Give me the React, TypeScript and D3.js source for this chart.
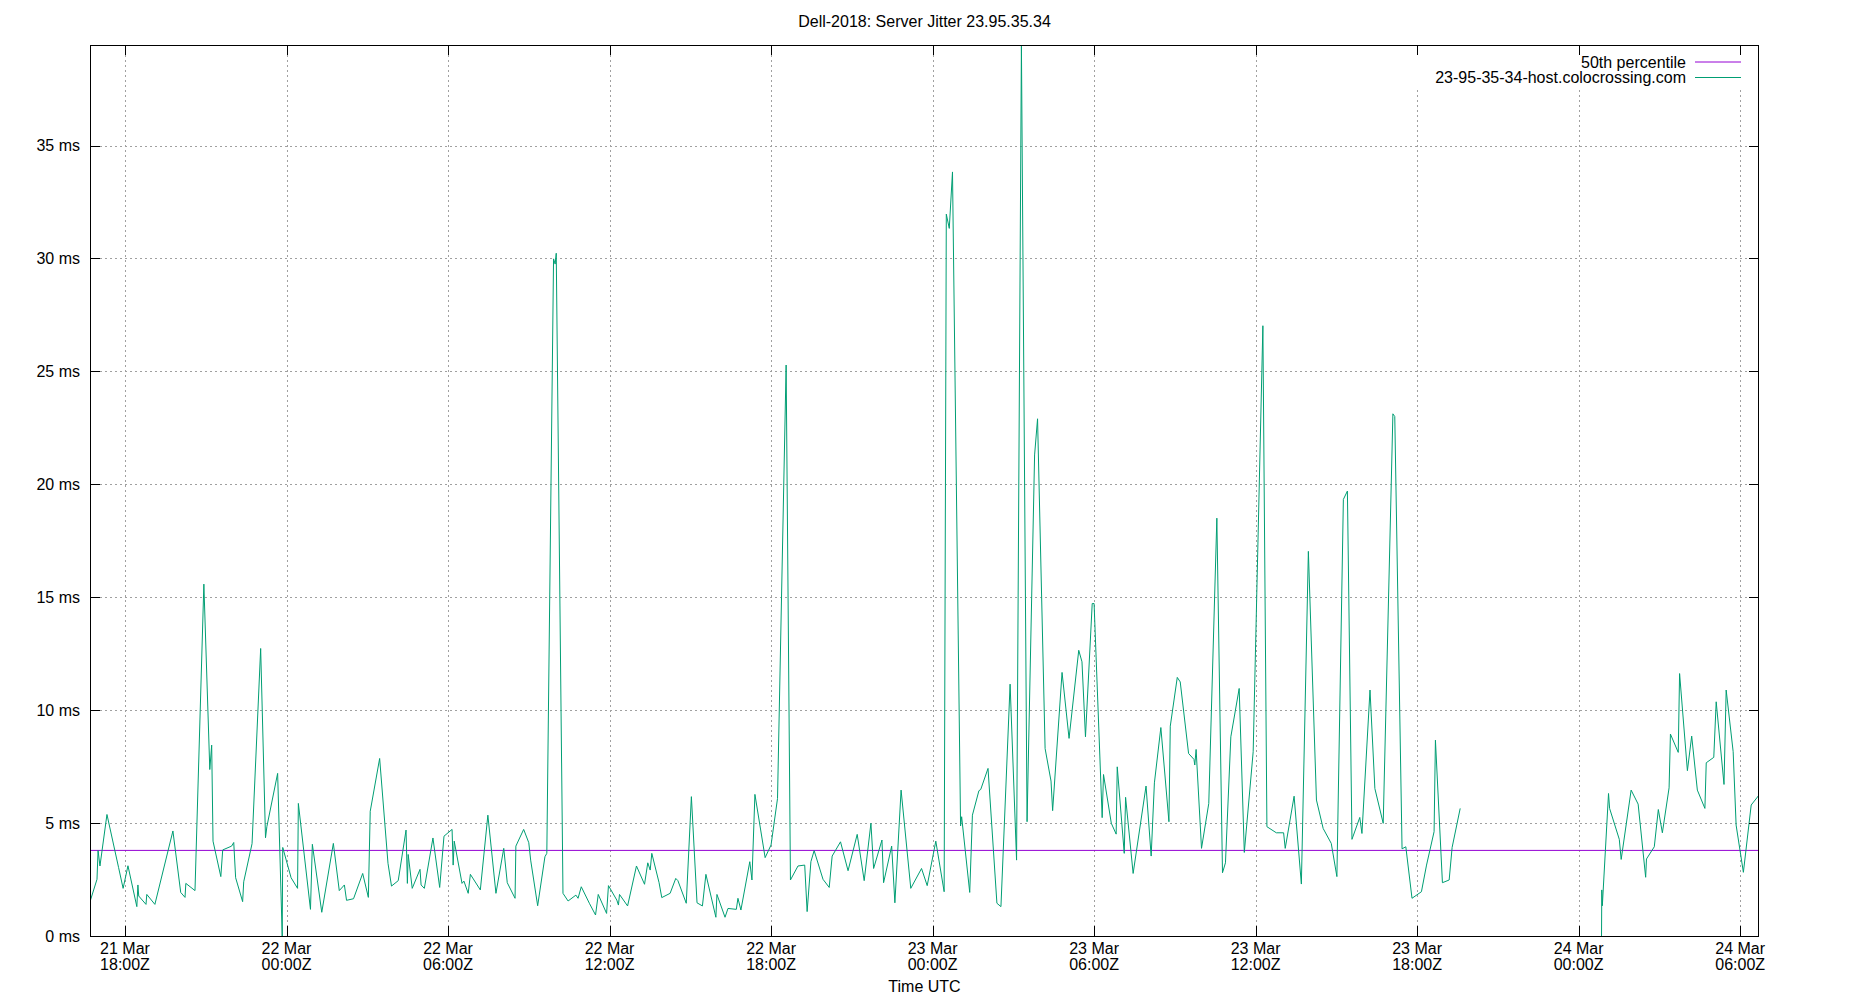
import * as d3 from "d3";
import { FC } from "react";

// hours after 22 Mar 00:00Z; null marks the gap in the samples
const HOURS: number[] = [
  -7.3, -7.04, -7.0, -6.93, -6.67, -6.24, -6.07, -5.89, -5.56, -5.52, -5.49,
  -5.22, -5.19, -4.89, -4.22, -3.93, -3.77, -3.74, -3.4, -3.07, -2.85, -2.78,
  -2.73, -2.44, -2.37, -2.04, -1.96, -1.89, -1.63, -1.59, -1.28, -0.96, -0.78,
  -0.73, -0.33, -0.16, -0.14, 0.17, 0.41, 0.44, 0.89, 0.96, 1.31, 1.74, 1.96,
  2.15, 2.23, 2.49, 2.83, 3.04, 3.11, 3.46, 3.77, 3.9, 4.15, 4.44, 4.49, 4.52,
  4.67, 4.96, 5.0, 5.12, 5.44, 5.69, 5.85, 6.15, 6.19, 6.23, 6.52, 6.59, 6.75,
  6.83, 7.2, 7.48, 7.78, 8.07, 8.2, 8.49, 8.52, 8.81, 9.0, 9.07, 9.33, 9.6,
  9.67, 9.92, 9.98, 10.02, 10.27, 10.46, 10.75, 10.83, 10.95, 11.25, 11.48,
  11.58, 11.89, 11.96, 12.27, 12.33, 12.37, 12.67, 13.0, 13.3, 13.42, 13.51,
  13.57, 13.84, 13.94, 14.25, 14.46, 14.54, 14.85, 15.04, 15.25, 15.45, 15.58,
  15.95, 15.99, 16.29, 16.4, 16.71, 16.77, 16.88, 17.21, 17.29, 17.4, 17.78,
  18.0, 18.24, 18.56, 18.72, 19.0, 19.25, 19.34, 19.48, 19.6, 19.93, 20.16,
  20.27, 20.58, 20.86, 21.2, 21.46, 21.71, 21.81, 22.12, 22.18, 22.48, 22.6,
  22.83, 23.19, 23.59, 23.8, 24.12, 24.43, 24.51, 24.62, 24.74, 25.04, 25.08,
  25.38, 25.48, 25.72, 25.79, 26.06, 26.39, 26.54, 26.88, 27.12, 27.3, 27.51,
  27.79, 27.9, 28.18, 28.4, 28.46, 28.81, 29.07, 29.43, 29.55, 29.68, 29.93,
  30.0, 30.3, 30.35, 30.64, 30.82, 30.86, 31.12, 31.17, 31.45, 31.93, 32.12,
  32.24, 32.48, 32.78, 32.83, 33.09, 33.2, 33.51, 33.71, 33.74, 33.79, 33.99,
  34.26, 34.56, 34.77, 34.88, 35.08, 35.39, 35.58, 35.91, 36.27, 36.42, 36.77,
  37.04, 37.1, 37.43, 37.7, 37.96, 38.26, 38.51, 38.81, 39.02, 39.26, 39.41,
  39.58, 39.87, 39.95, 40.25, 40.43, 40.74, 41.1, 41.17, 41.44, 41.58, 41.81,
  42.16, 42.35, 42.63, 42.68, 42.94, 43.19, 43.3, 43.6, 46.0, 48.85, 48.86,
  48.88, 49.11, 49.15, 49.51, 49.58, 49.95, 50.21, 50.49, 50.52, 50.81, 50.96,
  51.11, 51.36, 51.41, 51.7, 51.75, 52.04, 52.2, 52.41, 52.69, 52.74, 53.02,
  53.11, 53.4, 53.48, 53.74, 53.85, 54.12, 54.41, 54.7,
];

// jitter, ms
const JITTER: (number | null)[] = [
  1.52, 2.51, 3.78, 3.1, 5.38, 3.04, 2.11, 3.11, 1.3, 2.26, 1.77, 1.4, 1.84,
  1.4, 4.65, 1.93, 1.71, 2.33, 2.01, 15.58, 7.37, 8.45, 4.2, 2.63, 3.81, 3.98,
  4.14, 2.58, 1.52, 2.4, 4.09, 12.73, 4.35, 4.84, 7.2, 0.0, 3.92, 2.58, 2.11,
  5.87, 1.18, 4.06, 1.05, 4.1, 2.01, 2.26, 1.58, 1.65, 2.77, 1.71, 5.52, 7.86,
  3.22, 2.21, 2.45, 4.69, 2.33, 3.61, 2.11, 2.95, 2.26, 2.11, 4.34, 2.15, 4.42,
  4.72, 3.14, 4.2, 2.33, 2.43, 1.89, 2.73, 2.04, 5.35, 1.89, 3.88, 2.36, 1.67,
  3.98, 4.72, 4.13, 3.36, 1.34, 3.51, 3.66, 29.98, 29.75, 30.23, 1.89, 1.55,
  1.81, 1.67, 2.18, 1.45, 0.93, 1.84, 1.0, 2.23, 1.59, 1.37, 1.84, 1.33, 3.1,
  2.29, 3.24, 2.92, 3.66, 2.36, 1.7, 1.89, 2.55, 2.45, 1.45, 6.17, 1.47, 1.33,
  2.73, 0.83, 1.84, 0.83, 1.22, 1.18, 1.67, 1.15, 3.29, 2.48, 6.27, 3.47, 4.03,
  6.09, 25.28, 2.48, 3.1, 3.14, 1.08, 3.29, 3.78, 2.51, 2.15, 3.54, 4.17, 2.89,
  4.5, 2.45, 4.99, 2.99, 4.25, 2.36, 3.98, 1.47, 6.46, 2.11, 2.99, 2.23, 4.2,
  1.96, 31.96, 31.33, 33.83, 4.87, 5.28, 1.93, 5.35, 6.43, 6.49, 7.42, 1.45,
  1.3, 11.15, 3.36, 39.45, 5.06, 21.3, 22.9, 8.3, 6.86, 5.55, 11.67, 8.75,
  12.65, 12.14, 8.82, 14.72, 14.72, 5.24, 7.15, 4.99, 4.51, 7.49, 3.66, 6.14,
  2.77, 6.64, 3.54, 6.78, 9.23, 5.06, 9.29, 11.45, 11.25, 8.08, 7.82, 7.57,
  8.26, 3.88, 5.87, 18.5, 2.8, 3.24, 8.82, 10.96, 3.7, 8.16, 27.02, 4.84, 4.57,
  4.57, 3.88, 6.19, 2.3, 17.03, 6.02, 4.76, 4.1, 2.63, 19.33, 19.7, 4.28, 5.25,
  4.54, 10.89, 6.53, 4.99, 23.12, 23.0, 3.86, 3.95, 1.67, 1.96, 3.14, 4.62,
  8.67, 2.36, 2.48, 3.92, 5.65, null, 0.0, 2.04, 1.34, 6.31, 5.65, 4.28, 3.39,
  6.46, 5.84, 2.6, 3.41, 3.95, 5.6, 4.57, 6.56, 8.94, 8.13, 11.62, 7.32, 8.85,
  6.46, 5.65, 7.67, 7.91, 10.37, 6.71, 10.89, 8.16, 4.91, 2.82, 5.8, 6.24,
];

const MEDIAN = 3.79;
const TITLE = "Dell-2018: Server Jitter 23.95.35.34";
const SERIES = ["50th percentile", "23-95-35-34-host.colocrossing.com"];
const COLORS = ["#9400d3", "#009e73"];

const BASE = Date.UTC(2019, 2, 22, 0, 0);
const FONT = "'Liberation Sans', Arial, sans-serif";

const W = 1850;
const H = 1000;
const M = { top: 45, right: 91, bottom: 64, left: 90 };

const App: FC = () => {
  const pts = HOURS.map((h, i) => ({
    t: new Date(BASE + h * 3600e3),
    v: JITTER[i],
  }));

  const x = d3
    .scaleUtc()
    .domain(d3.extent(pts, (d) => d.t) as [Date, Date])
    .range([M.left, W - M.right]);
  const y = d3
    .scaleLinear()
    .domain([0, d3.max(JITTER, (d) => d ?? 0) as number])
    .range([H - M.bottom, M.top]);

  const xTicks = x.ticks(d3.utcHour.every(6)!);
  const yTicks = y.ticks(8);
  const fmtDay = d3.utcFormat("%d %b");
  const fmtHour = d3.utcFormat("%H:%MZ");

  const line = d3
    .line<{ t: Date; v: number | null }>()
    .defined((d) => d.v !== null)
    .x((d) => x(d.t))
    .y((d) => y(d.v as number));

  const x0 = M.left;
  const x1 = W - M.right;
  const y0 = H - M.bottom;
  const y1 = M.top;

  return (
    <svg
      width={W}
      height={H}
      style={{ position: "absolute", left: 0, top: 0, background: "#fff" }}
      fontFamily={FONT}
    >
      <text x={(x0 + x1) / 2} y={27} textAnchor="middle" fontSize={16}>
        {TITLE}
      </text>

      {/* grid */}
      <g stroke="#a0a0a0" strokeWidth={1} strokeDasharray="2,3">
        {xTicks.map((t, i) => (
          <line
            key={"gx" + i}
            x1={Math.round(x(t)) + 0.5}
            x2={Math.round(x(t)) + 0.5}
            y1={y1}
            y2={y0}
          />
        ))}
        {yTicks
          .filter((v) => v > 0)
          .map((v, i) => (
            <line
              key={"gy" + i}
              x1={x0}
              x2={x1}
              y1={Math.round(y(v)) + 0.5}
              y2={Math.round(y(v)) + 0.5}
            />
          ))}
      </g>

      <defs>
        <clipPath id="plot">
          <rect x={x0} y={y1} width={x1 - x0} height={y0 - y1} />
        </clipPath>
      </defs>

      <g clipPath="url(#plot)">
        <line
          x1={x0}
          x2={x1}
          y1={y(MEDIAN)}
          y2={y(MEDIAN)}
          stroke={COLORS[0]}
          strokeWidth={1}
        />
        <path
          d={line(pts) ?? ""}
          fill="none"
          stroke={COLORS[1]}
          strokeWidth={1}
        />
      </g>

      {/* opaque key area */}
      <rect x={1412} y={y1} width={x1 - 1412} height={43} fill="#fff" />

      {/* ticks, mirrored */}
      <g stroke="#000" strokeWidth={1}>
        {xTicks.map((t, i) => {
          const px = Math.round(x(t)) + 0.5;
          return (
            <g key={"tx" + i}>
              <line x1={px} x2={px} y1={y0} y2={y0 - 10} />
              <line x1={px} x2={px} y1={y1} y2={y1 + 10} />
            </g>
          );
        })}
        {yTicks.map((v, i) => {
          const py = Math.round(y(v)) + 0.5;
          return (
            <g key={"ty" + i}>
              <line x1={x0} x2={x0 + 10} y1={py} y2={py} />
              <line x1={x1} x2={x1 - 10} y1={py} y2={py} />
            </g>
          );
        })}
      </g>

      <rect
        x={x0 + 0.5}
        y={y1 + 0.5}
        width={x1 - x0 - 1}
        height={y0 - y1}
        fill="none"
        stroke="#000"
        strokeWidth={1}
      />

      {/* tick labels */}
      <g fontSize={16} fill="#000">
        {yTicks.map((v, i) => (
          <text key={"ly" + i} x={80} y={y(v)} dy="0.35em" textAnchor="end">
            {v} ms
          </text>
        ))}
        {xTicks.map((t, i) => (
          <text key={"lx" + i} x={x(t)} textAnchor="middle">
            <tspan x={x(t)} y={954}>
              {fmtDay(t)}
            </tspan>
            <tspan x={x(t)} y={970}>
              {fmtHour(t)}
            </tspan>
          </text>
        ))}
        <text x={(x0 + x1) / 2} y={992} textAnchor="middle">
          Time UTC
        </text>
      </g>

      {/* legend */}
      <g fontSize={16}>
        {SERIES.map((s, i) => {
          const ly = 62 + i * 15.5;
          return (
            <g key={s}>
              <text x={1686} y={ly} dy="0.35em" textAnchor="end">
                {s}
              </text>
              <line
                x1={1695}
                x2={1741}
                y1={ly}
                y2={ly}
                stroke={COLORS[i]}
                strokeWidth={1}
              />
            </g>
          );
        })}
      </g>
    </svg>
  );
};

export default App;
